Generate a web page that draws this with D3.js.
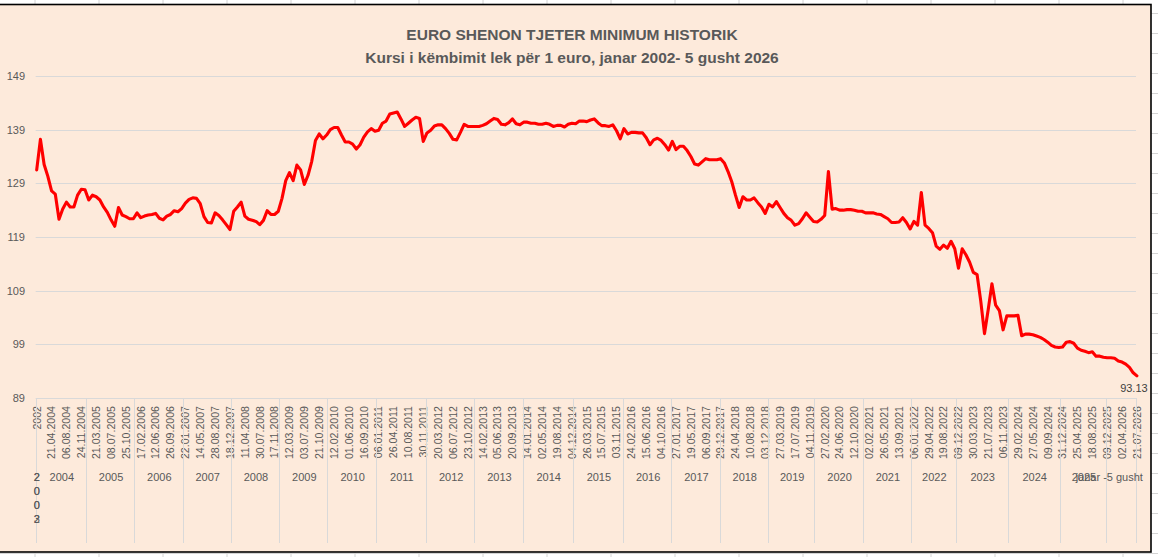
<!DOCTYPE html>
<html>
<head>
<meta charset="utf-8">
<script src="https://cdn.jsdelivr.net/npm/d3@7"></script>
<style>
  html, body { margin: 0; padding: 0; background: #ffffff; }
  svg { display: block; font-family: "Liberation Sans", Arial, sans-serif; }
</style>
</head>
<body>
<svg id="chart" width="1158" height="557"></svg>
<script>
// ---------------- DATA ----------------
const titleLines = [
  "EURO SHENON TJETER MINIMUM HISTORIK",
  "Kursi i këmbimit lek për 1 euro, janar 2002- 5 gusht 2026"
];

const yTicks = [89, 99, 109, 119, 129, 139, 149];

const dateLabels = [
  "2002","21.04.2004","06.08.2004","24.11.2004","21.03.2005","08.07.2005","25.10.2005",
  "17.02.2006","12.06.2006","26.09.2006","22.01.2007","14.05.2007","28.08.2007","18.12.2007",
  "11.04.2008","30.07.2008","17.11.2008","12.03.2009","03.07.2009","21.10.2009","12.02.2010",
  "01.06.2010","16.09.2010","06.01.2011","26.04.2011","10.08.2011","30.11.2011","20.03.2012",
  "06.07.2012","23.10.2012","14.02.2013","05.06.2013","20.09.2013","14.01.2014","02.05.2014",
  "19.08.2014","04.12.2014","26.03.2015","15.07.2015","03.11.2015","24.02.2016","15.06.2016",
  "04.10.2016","27.01.2017","19.05.2017","06.09.2017","29.12.2017","24.04.2018","10.08.2018",
  "03.12.2018","27.03.2019","17.07.2019","04.11.2019","27.02.2020","24.06.2020","12.10.2020",
  "02.02.2021","26.05.2021","13.09.2021","06.01.2022","29.04.2022","19.08.2022","09.12.2022",
  "30.03.2023","21.07.2023","06.11.2023","29.02.2024","27.05.2024","09.09.2024","31.12.2024",
  "25.04.2025","18.08.2025","09.12.2025","02.04.2026","21.07.2026"
];

// exchange rate lek per euro (sampled along the category axis)
const rateValues = [
  131.5,137.2,132.5,130.3,127.6,127.0,122.3,124.2,125.5,124.6,
  124.6,126.8,127.9,127.8,125.9,126.8,126.5,125.9,124.6,123.6,
  122.2,121.0,124.5,123.1,122.8,122.4,122.4,123.5,122.6,122.9,
  123.1,123.2,123.4,122.5,122.2,122.9,123.2,123.9,123.7,124.3,
  125.3,126.0,126.3,126.2,125.2,122.8,121.7,121.6,123.5,123.0,
  122.2,121.3,120.4,123.8,124.6,125.5,122.9,122.3,122.1,121.9,
  121.3,122.1,123.9,123.2,123.2,123.8,126.2,129.5,131.0,129.5,
  132.4,131.5,128.8,130.5,133.1,137.0,138.2,137.3,138.0,139.0,
  139.4,139.4,138.0,136.7,136.7,136.3,135.4,136.2,137.6,138.6,
  139.2,138.7,138.9,140.2,140.6,141.9,142.1,142.3,141.0,139.6,
  140.2,140.8,141.3,141.1,136.8,138.4,138.9,139.7,139.9,139.9,
  139.2,138.3,137.2,137.1,138.5,140.0,139.6,139.6,139.6,139.6,
  139.8,140.1,140.6,141.1,140.9,140.0,139.9,140.3,141.0,140.1,
  139.9,140.4,140.4,140.2,140.2,140.0,140.0,140.2,140.0,139.6,
  139.8,139.8,139.5,140.0,140.2,140.1,140.6,140.6,140.5,140.8,
  141.0,140.3,139.75,139.75,139.6,139.9,138.8,137.3,139.2,138.2,
  138.5,138.5,138.4,138.4,137.5,136.2,137.1,137.4,137.0,136.2,
  135.2,136.8,135.3,135.9,135.9,135.1,134.0,132.6,132.4,133.0,
  133.6,133.4,133.4,133.4,133.6,132.8,131.2,129.3,126.8,124.5,
  126.5,125.9,125.9,126.3,125.4,124.6,123.4,125.1,124.6,125.6,
  124.5,123.4,122.6,122.1,121.2,121.5,122.4,123.5,122.7,121.9,
  121.8,122.3,123.0,131.2,124.2,124.3,124.0,124.0,124.1,124.1,
  124.0,123.8,123.8,123.5,123.5,123.5,123.3,123.2,122.8,122.4,
  121.7,121.7,121.8,122.6,121.7,120.5,121.9,121.2,127.3,121.2,
  120.6,119.8,117.3,116.7,117.5,116.9,118.2,116.8,113.2,116.8,
  115.7,114.3,112.4,112.0,107.0,101.0,105.5,110.3,106.3,105.3,
  101.7,104.3,104.3,104.3,104.4,100.6,100.9,100.9,100.8,100.55,
  100.3,99.9,99.4,98.8,98.5,98.4,98.5,99.4,99.5,99.2,
  98.3,97.9,97.7,97.45,97.6,96.8,96.8,96.6,96.5,96.5,
  96.4,95.9,95.7,95.3,94.7,93.7,93.13
];

// outer category level (years)
const narrowYears = ["2002", "2003"];
const yearNames = ["2004","2005","2006","2007","2008","2009","2010","2011","2012","2013","2014",
  "2015","2016","2017","2018","2019","2020","2021","2022","2023","2024","2025","janar -5 gusht"];
// category index where each year group begins / ends
const yearBounds = [0,13.5,26.5,39.5,52.5,65.5,78.5,91.5,105,118,131,144.5,158,171,184,197,
  209.5,222.5,235.5,247.5,261.5,275.5,288,296];

// ---------------- DRAW ----------------
const W = 1158, H = 557;
const svg = d3.select("#chart");
const textColor = "#595959";

// spreadsheet background grid
const sheet = svg.append("g");
sheet.append("rect").attr("width", W).attr("height", H).attr("fill", "#ffffff");
sheet.selectAll("line.v").data(d3.range(35, W, 64)).join("line")
  .attr("x1", d => d).attr("x2", d => d).attr("y1", 0).attr("y2", H)
  .attr("stroke", "#d4d4d4").attr("stroke-width", 1);
sheet.selectAll("line.h").data(d3.range(13.5, H, 20)).join("line")
  .attr("x1", 0).attr("x2", W).attr("y1", d => d).attr("y2", d => d)
  .attr("stroke", "#d4d4d4").attr("stroke-width", 1);

// chart panel
svg.append("rect")
  .attr("x", -3).attr("y", 4.5).attr("width", 1154).attr("height", 547.5)
  .attr("fill", "#fdeadb").attr("stroke", "#000000").attr("stroke-width", 1.6);

const plot = { left: 36.7, right: 1136.9, top: 76, bottom: 398 };

const x = d3.scaleLinear().domain([0, rateValues.length - 1]).range([plot.left, plot.right]);
const y = d3.scaleLinear().domain([d3.min(yTicks), d3.max(yTicks)]).range([plot.bottom, plot.top]);

// title
svg.append("g").selectAll("text").data(titleLines).join("text")
  .attr("x", 572).attr("y", (d, i) => 40 + i * 23)
  .attr("text-anchor", "middle")
  .attr("font-weight", "bold").attr("font-size", 15.5)
  .attr("fill", textColor)
  .text(d => d);

// horizontal gridlines
svg.append("g").selectAll("line").data(yTicks).join("line")
  .attr("x1", plot.left - 1).attr("x2", 1136)
  .attr("y1", d => Math.round(y(d)) + 0.5).attr("y2", d => Math.round(y(d)) + 0.5)
  .attr("stroke", "#d9d9d9").attr("stroke-width", 1);

// y axis labels
const yAxis = d3.axisLeft(y).tickValues(yTicks).tickSize(0).tickPadding(0);
const gy = svg.append("g").attr("transform", `translate(25,0)`).call(yAxis);
gy.select(".domain").remove();
gy.selectAll("text").attr("font-size", 11).attr("fill", textColor)
  .attr("font-family", "Liberation Sans, Arial, sans-serif");

// x axis: inner level (dates)
const step = (rateValues.length - 1) / (dateLabels.length - 1);
const gx = svg.append("g");
gx.selectAll("text").data(dateLabels).join("text")
  .attr("transform", (d, i) => `translate(${x(i * step)},406) rotate(-90)`)
  .attr("text-anchor", "end").attr("dy", "0.36em")
  .attr("font-size", 10.6).attr("fill", textColor)
  .text(d => d);

// x axis: outer level separators (year groups)
svg.append("g").selectAll("line").data(yearBounds).join("line")
  .attr("x1", d => Math.round(x(d)) - 0.5).attr("x2", d => Math.round(x(d)) - 0.5)
  .attr("y1", plot.bottom).attr("y2", 543)
  .attr("stroke", "#d9d9d9").attr("stroke-width", 1);

// year labels
const yl = svg.append("g");
yearNames.forEach((name, i) => {
  const cx = (x(yearBounds[i]) + x(yearBounds[i + 1])) / 2;
  const t = yl.append("text").attr("x", cx).attr("y", 481)
    .attr("text-anchor", "middle").attr("font-size", 11).attr("fill", textColor)
    .text(name);
  const w = t.node().getComputedTextLength();
  const maxRight = plot.right + 6;
  if (cx + w / 2 > maxRight) t.attr("x", maxRight - w / 2);
});

// narrow year groups rendered as stacked characters
narrowYears.forEach(name => {
  const t = yl.append("text").attr("x", x(0)).attr("y", 481)
    .attr("text-anchor", "middle").attr("font-size", 11).attr("fill", textColor);
  name.split("").forEach((ch, k) => {
    t.append("tspan").attr("x", x(0)).attr("y", 481 + k * 14).text(ch);
  });
});

// the line
const line = d3.line().x((d, i) => x(i)).y(d => y(d)).curve(d3.curveLinear);
svg.append("path").datum(rateValues)
  .attr("d", line).attr("fill", "none")
  .attr("stroke", "#ff0000").attr("stroke-width", 3.1)
  .attr("stroke-linejoin", "round").attr("stroke-linecap", "round");

// last value label
const lastIdx = rateValues.length - 1;
svg.append("text")
  .attr("x", x(lastIdx) - 3).attr("y", y(rateValues[lastIdx]) + 16)
  .attr("text-anchor", "middle").attr("font-size", 11).attr("fill", "#404040")
  .text(d3.format(".2f")(rateValues[lastIdx]));
</script>
</body>
</html>
